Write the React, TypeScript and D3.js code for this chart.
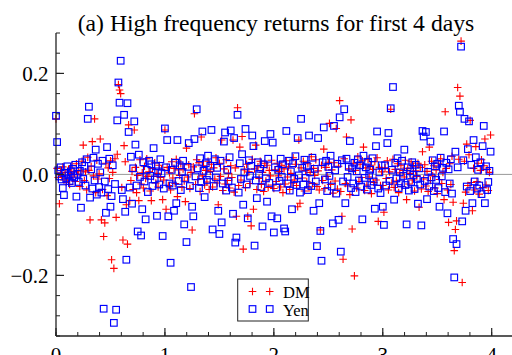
import React from "react";
import * as d3 from "d3";

// Returns in thousandths, 96 observations per day
const dmDay0 = [110,12,-6,-58,3,-2,15,-11,4,-16,-7,9,-20,2,17,-5,6,-14,21,-1,8,-24,7,26,58,-12,5,-31,34,8,-90,16,65,-3,110,-36,28,-9,1,70,-90,-30,-123,-96,22,-42,13,-8,27,-169,4,-186,31,-85,40,178,167,160,-26,-130,57,25,-60,-138,98,-52,-12,6,-30,88,14,-36,-2,-52,29,-19,3,-27,16,-8,31,-4,5,-33,-52,12,-4,23,-17,2,-25,18,-6,10,-50,-11];
const dmDay1 = [88,-69,14,-22,3,-31,25,-7,12,-18,30,-44,9,-2,21,-26,11,-13,-54,52,-5,19,-28,4,-110,15,120,-20,29,-10,23,-34,74,-3,17,-21,8,-15,26,-30,6,20,-25,13,-9,33,-17,-60,22,-4,68,-32,11,-19,29,-12,2,-27,17,-6,68,-35,13,-83,132,-22,54,-11,75,-148,9,-26,20,-83,5,-18,-102,30,-69,11,58,-30,15,-8,26,-20,4,-34,22,-13,18,-26,8,-3,28,-21];
const dmDay2 = [-28,9,-14,22,-3,6,-25,18,-36,11,-19,27,-5,15,-30,2,-17,33,-11,20,-22,-64,68,-57,13,-7,26,-33,8,-14,21,-27,4,35,-18,12,-2,29,-24,7,-31,-110,18,-12,50,-28,14,-4,24,101,-20,9,-37,23,-13,91,-29,16,146,-34,-83,-168,31,-18,74,-23,11,-40,108,-108,22,-201,8,-27,35,-14,20,-6,27,54,-32,13,-21,30,-5,18,-38,10,-16,25,-11,33,-93,14,-22,5];
const dmDay3 = [-22,-75,13,-8,27,-31,5,129,-17,30,-26,10,-13,21,-36,3,18,-24,8,-5,28,-50,12,-19,2,25,-11,16,-33,7,-4,22,-65,14,-29,45,-9,19,-23,6,-34,54,-12,26,-3,17,-27,9,-38,22,-10,31,-18,4,-50,124,12,-31,-95,21,-20,36,-55,-151,-109,-92,172,30,155,264,-214,-57,26,-35,60,-22,39,107,-16,-72,12,-31,55,-14,22,-39,8,29,-26,17,70,-21,10,-32,4,78];

const yenDay0 = [116,64,8,-4,14,-10,-27,-41,3,-8,16,-2,-13,6,-17,11,-6,19,-44,1,-15,7,-66,24,-9,17,-22,30,110,134,-46,10,-28,33,-12,49,-40,21,-25,4,-36,27,-266,-14,-76,54,-29,31,-64,-43,18,-294,-19,-268,107,182,142,225,-31,-49,118,-74,-169,141,84,-26,35,-58,12,105,59,-22,-113,39,-5,-121,-69,24,-14,-89,9,-35,27,-3,20,-23,52,-10,16,-82,6,-20,30,2,-122,-28];
const yenDay1 = [91,14,68,-83,-18,-175,9,-22,-72,23,-57,68,-13,18,-31,5,27,-99,-8,-134,15,62,-23,-223,-64,-83,70,-4,129,12,-27,32,-15,85,7,-45,22,-11,37,-2,17,88,-109,-23,30,-6,13,-72,-118,27,-95,-18,65,83,-32,9,-14,34,87,-26,-78,72,-135,-125,118,-36,22,-9,40,-60,4,90,-20,-87,28,-3,17,77,56,-141,-12,-47,24,1,11,-25,-103,20,66,-8,-54,31,-17,80,-83,63];
const yenDay2 = [-115,14,-26,-87,9,-13,31,-5,20,-107,-113,86,-18,27,-32,6,-69,22,-9,36,-21,72,-2,-36,110,13,-20,29,-7,17,-31,77,4,-23,33,-72,11,-14,-142,72,-57,-112,-171,24,93,-10,27,-33,15,-3,37,-24,-97,96,8,-38,21,-90,113,-153,28,-14,129,-57,31,-5,15,66,-27,12,-18,23,-35,6,30,-12,18,-24,-89,37,-7,14,-30,25,-2,9,-21,32,-14,-68,56,85,-28,4,-37,18];
const yenDay3 = [-64,-100,18,-22,62,82,-13,131,9,173,-50,23,-8,32,-27,4,-18,27,-3,49,-21,-99,14,-32,6,-15,24,-1,-29,19,-9,-58,12,-20,-101,86,75,-13,84,-49,5,-24,65,-6,28,-33,16,-11,21,-27,-64,33,-4,13,85,-35,23,-77,10,-18,30,-38,-128,-204,45,-138,14,136,124,253,-93,28,110,-72,-24,50,105,-33,19,-57,68,-14,34,-28,9,-22,24,-39,56,96,-57,16,-31,-15,7,45];

const perDay = 96;
const xTickLabels = ["0", "1", "2", "3", "4"];
const yMajorTicks = [-0.2, 0, 0.2];
const yTickLabels = ["\u22120.2", "0.0", "0.2"];
const seriesNames = ["DM", "Yen"];
const title = "(a) High frequency returns for first 4 days";

const toPoints = (days: number[][]) =>
  days.flat().map((v, i) => ({ x: i / perDay, y: v / 1000 }));

export default function App() {
  const W = 512, H = 355;
  const x = d3.scaleLinear().domain([0, 4]).range([56, 491.7]);
  const y = d3.scaleLinear().domain([-0.32, 0.28]).range([336, 33]);
  const dm = toPoints([dmDay0, dmDay1, dmDay2, dmDay3]);
  const yen = toPoints([yenDay0, yenDay1, yenDay2, yenDay3]);
  const yMinor = d3.range(-8, 8).map((k) => k * 0.04);
  const xMinor = d3.range(0, 21).map((k) => k * 0.2);
  const font = "'Liberation Serif', 'Times New Roman', serif";
  const red = "#ff0000", blue = "#0000ff";
  const plus = (cx: number, cy: number, k: string) => (
    <path key={k} d={`M${cx - 3.8},${cy}H${cx + 3.8}M${cx},${cy - 3.8}V${cy + 3.8}`} stroke={red} strokeWidth={1.1} fill="none" />
  );
  const square = (cx: number, cy: number, k: string) => (
    <rect key={k} x={cx - 3.3} y={cy - 3.3} width={6.6} height={6.6} stroke={blue} strokeWidth={1.15} fill="none" />
  );
  return (
    <svg width={W} height={H} style={{ position: "absolute", left: 0, top: 0, background: "#fff" }} fontFamily={font}>
      <rect width={W} height={H} fill="#fff" />
      <text x={276} y={31} textAnchor="middle" fontSize={23.7} fill="#000">{title}</text>
      <line x1={56} x2={W} y1={y(0)} y2={y(0)} stroke="#999" strokeWidth={1} />
      {dm.map((p, i) => plus(x(p.x), y(p.y), "d" + i))}
      {yen.map((p, i) => square(x(p.x), y(p.y), "y" + i))}
      <line x1={56} x2={56} y1={y(0.28)} y2={y(-0.32)} stroke="#222" strokeWidth={1.3} />
      <line x1={56} x2={W} y1={y(-0.32)} y2={y(-0.32)} stroke="#222" strokeWidth={1.3} />
      {yMinor.map((v, i) => (
        <line key={"ym" + i} x1={56} x2={60} y1={y(v)} y2={y(v)} stroke="#222" strokeWidth={1} />
      ))}
      {yMajorTicks.map((v, i) => (
        <g key={"yM" + i}>
          <line x1={56} x2={64} y1={y(v)} y2={y(v)} stroke="#222" strokeWidth={1.2} />
          <text x={48.5} y={y(v) + 8} textAnchor="end" fontSize={21} fill="#000">{yTickLabels[i]}</text>
        </g>
      ))}
      {xMinor.map((v, i) => (
        <line key={"xm" + i} x1={x(v)} x2={x(v)} y1={336} y2={332} stroke="#222" strokeWidth={1} />
      ))}
      {xTickLabels.map((t, i) => (
        <g key={"xM" + i}>
          <line x1={x(i)} x2={x(i)} y1={336} y2={328} stroke="#222" strokeWidth={1.2} />
          <text x={x(i)} y={362} textAnchor="middle" fontSize={21} fill="#000">{t}</text>
        </g>
      ))}
      <rect x={237.7} y={279} width={70.6} height={42} fill="#fff" stroke="#222" strokeWidth={1} />
      {plus(252.5, 291.5, "l1")}
      {plus(269.7, 291.5, "l2")}
      {square(252.5, 309, "l3")}
      {square(269.7, 309, "l4")}
      <text x={283} y={297.5} fontSize={16.5} fill="#000">{seriesNames[0]}</text>
      <text x={283} y={316} fontSize={16.5} fill="#000">{seriesNames[1]}</text>
    </svg>
  );
}
